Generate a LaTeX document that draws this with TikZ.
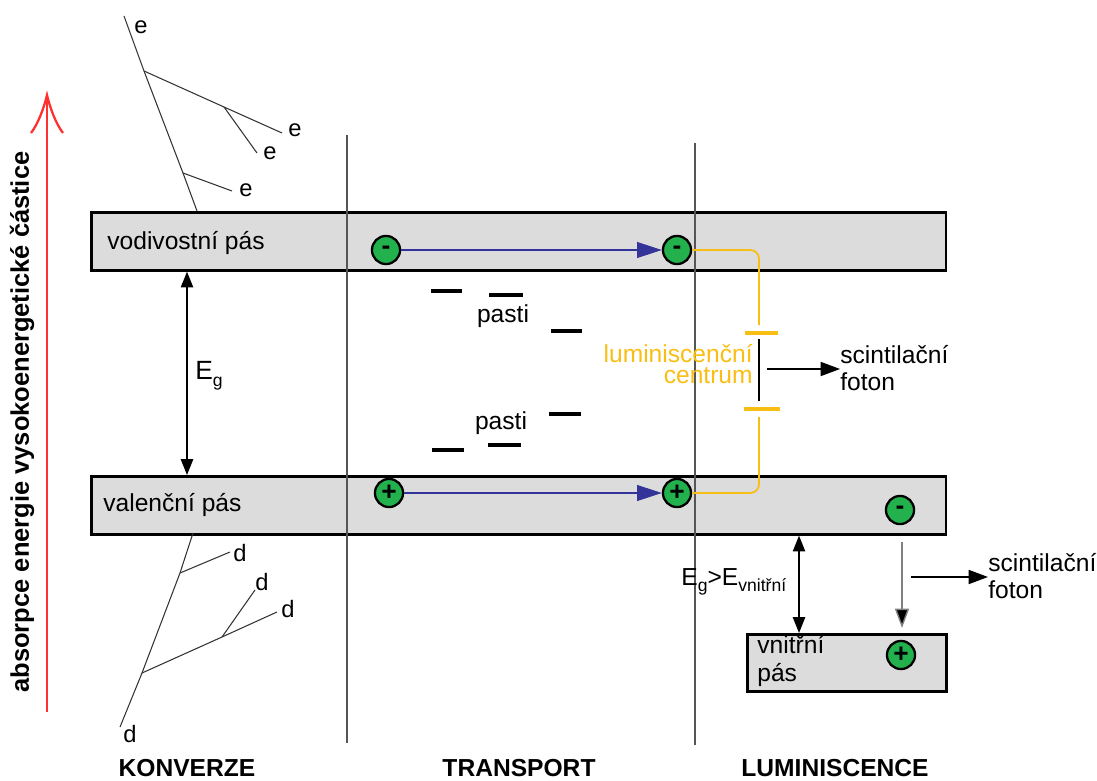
\documentclass[tikz,border=0pt]{standalone}
\usepackage{fontspec}
\setmainfont{Liberation Sans}
\usetikzlibrary{arrows.meta}
\definecolor{bandgray}{HTML}{DCDCDC}
\definecolor{elgreen}{HTML}{22B14C}
\definecolor{arrblue}{HTML}{333399}
\definecolor{lumyellow}{HTML}{F9BE14}
\definecolor{absred}{HTML}{FF3030}
\definecolor{sepgray}{HTML}{555555}
\begin{document}
\begin{tikzpicture}[x=0.02cm,y=-0.02cm,
  txt/.style={font=\fontsize{14}{16}\selectfont, inner sep=0pt, anchor=base west},
  btxt/.style={font=\fontsize{14}{16}\selectfont\bfseries, inner sep=0pt, anchor=base},
  lbl/.style={font=\fontsize{13.5}{16}\selectfont, inner sep=0pt},
  band/.style={draw=black, line width=1.5pt, fill=bandgray, inner sep=0pt},
  elec/.style={circle, draw=black, line width=1.3pt, fill=elgreen, minimum size=16pt, inner sep=0pt, font=\fontsize{15}{15}\selectfont\bfseries},
  sepline/.style={draw=sepgray, line width=0.6pt},
  track/.style={draw=black!80, line width=0.6pt},
  trap/.style={draw=black, line width=2pt},
  bluearr/.style={draw=arrblue, line width=0.6pt, -{Triangle[length=14pt,width=9pt]}},
  lumline/.style={draw=lumyellow, line width=1pt, rounded corners=5pt},
  lumlevel/.style={draw=lumyellow, line width=2pt},
  blkarr/.style={draw=black, line width=0.8pt, -{Triangle[length=11pt,width=8pt]}},
  dblarr/.style={draw=black, line width=0.8pt, {Triangle[length=9pt,width=7pt]}-{Triangle[length=9pt,width=7pt]}},
]
\useasboundingbox (0,0) rectangle (1097,780);

% bands
\node[band, anchor=north west, minimum width=17.1cm, minimum height=1.16cm] (cb) at (90,211) {};
\node[band, anchor=north west, minimum width=17.1cm, minimum height=1.16cm] (vb) at (90,475) {};
\node[band, anchor=north west, minimum width=3.98cm, minimum height=1.14cm] (ib) at (746,633) {};

\node[txt] (cbt) at (107,250) {vodivostní pás};
\node[txt] (vbt) at (103,511) {valenční pás};
\node[txt] (ibt1) at (757,653) {vnitřní};
\node[txt] (ibt2) at (757,681) {pás};

% separators
\coordinate (s1t) at (347,135); \coordinate (s1b) at (347,743);
\coordinate (s2t) at (695,143); \coordinate (s2b) at (695,745);
\draw[sepline] (s1t) -- (s1b);
\draw[sepline] (s2t) -- (s2b);

% absorption arrow
\coordinate (rb) at (47,712); \coordinate (rt) at (47,95);
\draw[absred, line width=0.8pt] (rb) -- (rt);
\draw[absred, line width=1.3pt] (31,133) .. controls (38,124) and (44,108) .. (rt) .. controls (50,108) and (56,124) .. (63,133);
\node[font=\fontsize{14.5}{16}\selectfont\bfseries, rotate=90, inner sep=0pt] (abs) at (22,422) {absorpce energie vysokoenergetické částice};

% e tracks
\coordinate (e0) at (124,16); \coordinate (e1) at (144,71); \coordinate (e2) at (183,173); \coordinate (e3) at (197,211);
\coordinate (e4) at (224,107); \coordinate (e5) at (282,133); \coordinate (e6) at (257,153); \coordinate (e7) at (232,191);
\draw[track] (e0) -- (e1) -- (e2) -- (e3);
\draw[track] (e1) -- (e4) -- (e5);
\draw[track] (e4) -- (e6);
\draw[track] (e2) -- (e7);
\node[lbl] (le0) at (141,27) {e};
\node[lbl] (le1) at (295,130) {e};
\node[lbl] (le2) at (270,153) {e};
\node[lbl] (le3) at (246,190) {e};

% d tracks
\coordinate (d0) at (193,533); \coordinate (d1) at (180,573); \coordinate (d2) at (142,673); \coordinate (d3) at (120,727);
\coordinate (d4) at (230,552); \coordinate (d5) at (222,637); \coordinate (d6) at (277,612); \coordinate (d7) at (255,590);
\draw[track] (d0) -- (d1) -- (d2) -- (d3);
\draw[track] (d1) -- (d4);
\draw[track] (d2) -- (d5) -- (d6);
\draw[track] (d5) -- (d7);
\node[lbl] (ld0) at (240,553) {d};
\node[lbl] (ld1) at (262,582) {d};
\node[lbl] (ld2) at (288,609) {d};
\node[lbl] (ld3) at (130,734) {d};

% Eg
\coordinate (egx) at (187,0);
\draw[dblarr] (cb.south -| egx) -- (vb.north -| egx);
\node[txt] (eg) at (195,379) {\fontsize{15}{16}\selectfont E\raisebox{-0.3em}{\fontsize{10}{10}\selectfont g}};

% traps
\coordinate (t1a) at (431,291); \coordinate (t1b) at (462,291);
\coordinate (t2a) at (489,295); \coordinate (t2b) at (523,295);
\coordinate (t3a) at (551,331); \coordinate (t3b) at (582,331);
\coordinate (t4a) at (549,414); \coordinate (t4b) at (581,414);
\coordinate (t5a) at (488,445); \coordinate (t5b) at (521,445);
\coordinate (t6a) at (432,450); \coordinate (t6b) at (464,450);
\draw[trap] (t1a) -- (t1b);
\draw[trap] (t2a) -- (t2b);
\draw[trap] (t3a) -- (t3b);
\draw[trap] (t4a) -- (t4b);
\draw[trap] (t5a) -- (t5b);
\draw[trap] (t6a) -- (t6b);
\node[txt, anchor=base] (p1) at (503,322) {pasti};
\node[txt, anchor=base] (p2) at (501,429) {pasti};

% electrons / holes
\node[elec] (c1) at (386,250) {-};
\node[elec] (c2) at (677,250) {-};
\node[elec] (v1) at (389,493) {+};
\node[elec] (v2) at (677,493) {+};
\node[elec] (v3) at (900,510) {-};
\node[elec] (i1) at (901,655) {+};
\draw[bluearr] (c1) -- (c2);
\draw[bluearr] (v1) -- (v2);

% luminescence centre
\coordinate (ly1) at (759,250); \coordinate (ly2) at (759,325);
\coordinate (ly3) at (759,417); \coordinate (ly4) at (759,493);
\draw[lumline] (c2.east) -- (ly1) -- (ly2);
\draw[lumline] (v2.east) -- (ly4) -- (ly3);
\coordinate (lu1) at (745,333); \coordinate (lu2) at (778,333);
\coordinate (ll1) at (744,409); \coordinate (ll2) at (780,409);
\draw[lumlevel] (lu1) -- (lu2);
\draw[lumlevel] (ll1) -- (ll2);
\coordinate (bk1) at (759,339); \coordinate (bk2) at (759,401);
\draw[black, line width=0.7pt] (bk1) -- (bk2);
\node[txt, anchor=base east, text=lumyellow] (lc1) at (753,362) {luminiscenční};
\node[txt, anchor=base east, text=lumyellow] (lc2) at (753,383) {centrum};

\node[txt] (sa1) at (840,363) {scintilační};
\node[txt] (sa2) at (840,390) {foton};
\coordinate (pa) at (767,369);
\draw[blkarr] (pa) -- (pa -| sa1.west);

% inner band transitions
\coordinate (x799) at (799,0);
\draw[dblarr] (vb.south -| x799) -- (ib.north -| x799);
\node[txt] (egi) at (681,585) {E\raisebox{-0.28em}{\fontsize{10}{10}\selectfont g}>E\raisebox{-0.28em}{\fontsize{10}{10}\selectfont vnitřní}};
\coordinate (g1) at (902,542); \coordinate (g2) at (902,628);
\draw[draw=gray, line width=0.8pt, -{Triangle[length=11pt,width=8pt,fill=black]}] (g1) -- (g2);
\node[txt] (sb1) at (988,571) {scintilační};
\node[txt] (sb2) at (988,598) {foton};
\coordinate (pb) at (911,577);
\draw[blkarr] (pb) -- (pb -| sb1.west);

% column labels
\node[btxt] (k1) at (187,776) {KONVERZE};
\node[btxt] (k2) at (519,776) {TRANSPORT};
\node[btxt] (k3) at (835,776) {LUMINISCENCE};
\end{tikzpicture}
\end{document}
